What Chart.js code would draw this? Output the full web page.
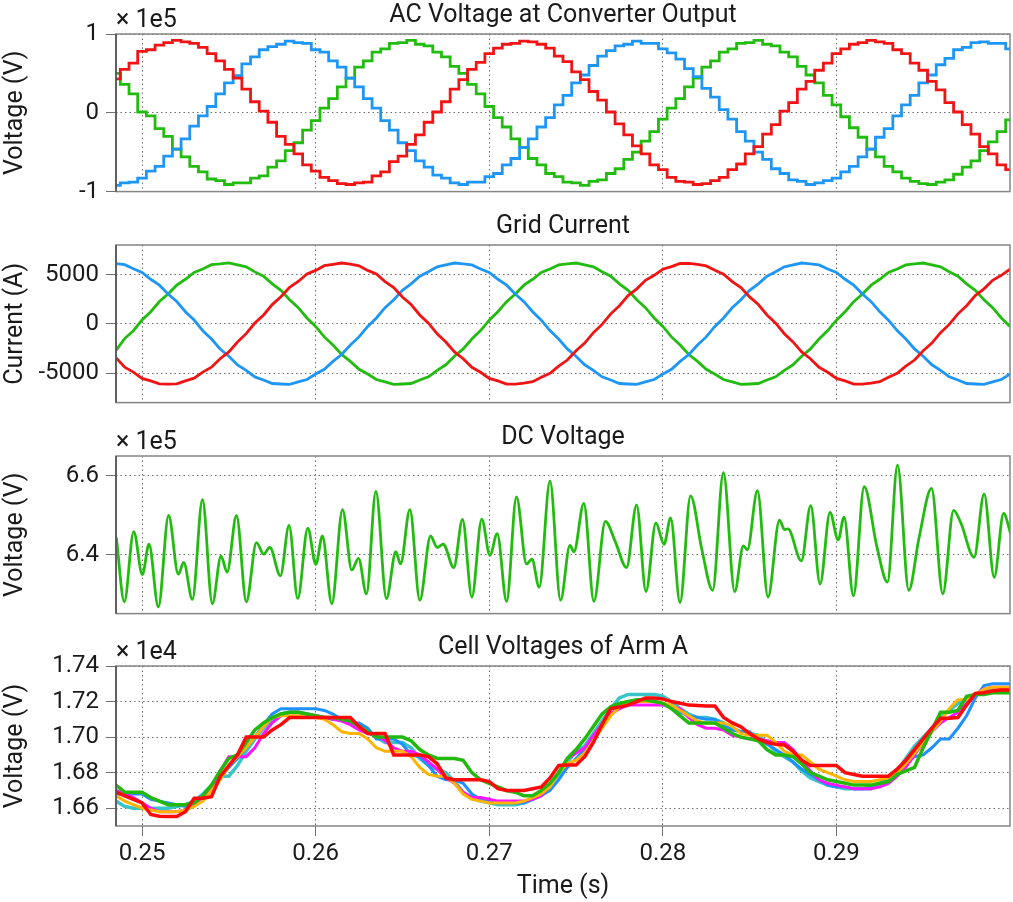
<!DOCTYPE html>
<html>
<head>
<meta charset="utf-8">
<title>MMC waveforms</title>
<script src="https://cdn.jsdelivr.net/npm/chart.js@4.4.0/dist/chart.umd.min.js"></script>
<style>
  html, body { margin: 0; padding: 0; background: #fff; }
  #wrap { position: relative; width: 1013px; height: 902px; }
  canvas { position: absolute; left: 0; }
</style>
</head>
<body>
<div id="wrap">
  <canvas id="ac-chart" width="1013" height="213" style="top:0px"></canvas>
  <canvas id="grid-chart" width="1013" height="213" style="top:211px"></canvas>
  <canvas id="dc-chart" width="1013" height="213" style="top:422px"></canvas>
  <canvas id="cell-chart" width="1013" height="270" style="top:632px"></canvas>
</div>
<script>
// Time axis (s); waveform arrays are sampled every tStep from tStart
const tStart = 0.2485;
const tEnd = 0.3;
const tStep = 0.0005;
const timeTicks = [0.25, 0.26, 0.27, 0.28, 0.29];

// AC voltage at converter output (x 1e5 V)
const acRed = [
    0.43, 0.55, 0.63, 0.78, 0.80, 0.86, 0.89, 0.92, 0.90, 0.88,
    0.83, 0.75, 0.66, 0.55, 0.44, 0.30, 0.14, 0.02, -0.12, -0.30,
    -0.40, -0.52, -0.66, -0.74, -0.82, -0.86, -0.90, -0.91, -0.89, -0.88,
    -0.80, -0.75, -0.62, -0.55, -0.40, -0.28, -0.12, 0.01, 0.14, 0.30,
    0.42, 0.55, 0.64, 0.75, 0.82, 0.87, 0.88, 0.91, 0.90, 0.87,
    0.82, 0.72, 0.65, 0.52, 0.42, 0.27, 0.16, 0.01, -0.14, -0.28,
    -0.42, -0.52, -0.66, -0.72, -0.82, -0.87, -0.88, -0.91, -0.90, -0.86,
    -0.82, -0.72, -0.65, -0.52, -0.43, -0.27, -0.15, 0.02, 0.13, 0.30,
    0.40, 0.54, 0.63, 0.75, 0.81, 0.87, 0.89, 0.92, 0.90, 0.88,
    0.80, 0.75, 0.63, 0.54, 0.40, 0.29, 0.13, 0.01, -0.15, -0.27,
    -0.43, -0.52, -0.66, -0.72
];
const acBlue = [
    -0.92, -0.89, -0.88, -0.83, -0.74, -0.68, -0.55, -0.46, -0.33, -0.17,
    -0.04, 0.08, 0.24, 0.38, 0.47, 0.62, 0.71, 0.80, 0.84, 0.87,
    0.91, 0.89, 0.88, 0.80, 0.77, 0.66, 0.58, 0.44, 0.33, 0.18,
    0.06, -0.10, -0.22, -0.38, -0.48, -0.61, -0.69, -0.79, -0.83, -0.89,
    -0.91, -0.88, -0.88, -0.81, -0.77, -0.66, -0.58, -0.44, -0.33, -0.18,
    -0.06, 0.10, 0.22, 0.38, 0.48, 0.60, 0.72, 0.79, 0.85, 0.87,
    0.91, 0.88, 0.88, 0.81, 0.76, 0.68, 0.56, 0.46, 0.31, 0.20,
    0.04, -0.08, -0.24, -0.36, -0.50, -0.59, -0.71, -0.77, -0.85, -0.87,
    -0.91, -0.89, -0.86, -0.83, -0.75, -0.68, -0.56, -0.46, -0.31, -0.20,
    -0.04, 0.10, 0.22, 0.38, 0.48, 0.61, 0.69, 0.80, 0.83, 0.89,
    0.90, 0.88, 0.88, 0.81
];
const acGreen = [
    0.50, 0.36, 0.24, 0.01, -0.04, -0.20, -0.30, -0.46, -0.56, -0.68,
    -0.75, -0.84, -0.86, -0.91, -0.89, -0.89, -0.83, -0.80, -0.69, -0.61,
    -0.48, -0.38, -0.22, -0.10, 0.06, 0.18, 0.33, 0.44, 0.58, 0.66,
    0.77, 0.81, 0.88, 0.89, 0.92, 0.87, 0.85, 0.77, 0.71, 0.59,
    0.50, 0.36, 0.24, 0.08, -0.06, -0.18, -0.33, -0.44, -0.58, -0.66,
    -0.77, -0.81, -0.88, -0.89, -0.92, -0.87, -0.85, -0.77, -0.71, -0.59,
    -0.50, -0.36, -0.24, -0.08, 0.06, 0.18, 0.33, 0.44, 0.58, 0.66,
    0.77, 0.81, 0.88, 0.89, 0.92, 0.87, 0.85, 0.77, 0.71, 0.59,
    0.48, 0.38, 0.22, 0.10, -0.05, -0.19, -0.31, -0.46, -0.56, -0.68,
    -0.75, -0.83, -0.87, -0.90, -0.91, -0.88, -0.85, -0.78, -0.69, -0.61,
    -0.48, -0.37, -0.24, -0.09
];
const acTicks = [-1, 0, 1];

// Grid current (A)
const iRed = [
    -3450, -4400, -4900, -5550, -5800, -6100, -6120, -6100, -5800, -5520,
    -4900, -4400, -3550, -2850, -1850, -1000, 80, 900, 1950, 2750,
    3700, 4300, 5050, 5420, 5900, 6030, 6170, 6050, 5880, 5420,
    5050, 4290, 3680, 2720, 1960, 900, 60, -1020, -1850, -2850,
    -3550, -4420, -4920, -5540, -5800, -6120, -6130, -6030, -5880, -5430,
    -5030, -4290, -3680, -2730, -1960, -900, -60, 1010, 1840, 2860,
    3550, 4420, 4920, 5540, 5800, 6120, 6130, 6030, 5880, 5430,
    5030, 4290, 3680, 2730, 1960, 900, 60, -1010, -1840, -2860,
    -3550, -4420, -4920, -5540, -5800, -6120, -6130, -6030, -5880, -5430,
    -5030, -4290, -3680, -2730, -1960, -900, -60, 1010, 1840, 2860,
    3550, 4420, 4920, 5540
];
const iBlue = [
    6100, 6000, 5580, 5220, 4520, 3920, 3020, 2260, 1230, 380,
    -700, -1540, -2560, -3290, -4170, -4720, -5390, -5700, -6060, -6110,
    -6150, -5900, -5660, -5100, -4620, -3820, -3120, -2150, -1330, -270,
    590, 1640, 2450, 3400, 4060, 4830, 5280, 5790, 5980, 6170,
    6080, 5980, 5570, 5210, 4520, 3920, 3030, 2250, 1230, 370,
    -690, -1550, -2550, -3300, -4160, -4730, -5380, -5700, -6060, -6110,
    -6150, -5900, -5660, -5110, -4620, -3820, -3120, -2150, -1330, -270,
    590, 1640, 2450, 3400, 4060, 4830, 5280, 5790, 5980, 6170,
    6080, 5980, 5570, 5210, 4520, 3920, 3030, 2250, 1230, 370,
    -690, -1550, -2550, -3300, -4160, -4730, -5380, -5700, -6060, -6110,
    -6150, -5900, -5660, -5110
];
const iGreen = [
    -2700, -1500, -700, 380, 1230, 2260, 3020, 3920, 4520, 5220,
    5560, 6000, 6080, 6180, 5980, 5790, 5270, 4830, 4060, 3400,
    2450, 1640, 590, -270, -1330, -2150, -3120, -3820, -4620, -5100,
    -5660, -5900, -6150, -6110, -6060, -5700, -5380, -4730, -4160, -3300,
    -2550, -1550, -690, 370, 1230, 2250, 3030, 3920, 4520, 5210,
    5570, 5980, 6080, 6170, 5980, 5790, 5280, 4830, 4060, 3400,
    2450, 1640, 590, -270, -1330, -2150, -3120, -3820, -4620, -5110,
    -5660, -5900, -6150, -6110, -6060, -5700, -5380, -4730, -4160, -3300,
    -2550, -1550, -690, 370, 1230, 2250, 3030, 3920, 4520, 5210,
    5570, 5980, 6080, 6170, 5980, 5790, 5280, 4830, 4060, 3400,
    2450, 1640, 590, -270
];
const currentTicks = [-5000, 0, 5000];

// DC voltage (x 1e5 V): turning points
const dcTimes = [
    0.24852, 0.24898, 0.24952, 0.25002, 0.25040, 0.25094, 0.25153, 0.25209, 0.25240, 0.25290,
    0.25348, 0.25405, 0.25455, 0.25490, 0.25544, 0.25601, 0.25659, 0.25701, 0.25736, 0.25797,
    0.25847, 0.25897, 0.25955, 0.26001, 0.26039, 0.26093, 0.26155, 0.26208, 0.26247, 0.26293,
    0.26347, 0.26408, 0.26462, 0.26489, 0.26543, 0.26600, 0.26662, 0.26700, 0.26735, 0.26796,
    0.26846, 0.26900, 0.26957, 0.27004, 0.27046, 0.27100, 0.27157, 0.27215, 0.27246, 0.27288,
    0.27350, 0.27411, 0.27465, 0.27488, 0.27545, 0.27603, 0.27669, 0.27725, 0.27791, 0.27849,
    0.27903, 0.27960, 0.28007, 0.28045, 0.28099, 0.28160, 0.28225, 0.28287, 0.28349, 0.28414,
    0.28464, 0.28487, 0.28545, 0.28606, 0.28672, 0.28702, 0.28721, 0.28798, 0.28852, 0.28906,
    0.28963, 0.29010, 0.29044, 0.29098, 0.29160, 0.29233, 0.29294, 0.29352, 0.29417, 0.29475,
    0.29548, 0.29613, 0.29675, 0.29717, 0.29793, 0.29851, 0.29909, 0.29963, 0.30005
];
const dcVolts = [
    6.443, 6.280, 6.458, 6.349, 6.426, 6.267, 6.499, 6.350, 6.380, 6.286,
    6.539, 6.275, 6.396, 6.355, 6.499, 6.280, 6.430, 6.401, 6.418, 6.346,
    6.474, 6.288, 6.467, 6.375, 6.447, 6.275, 6.514, 6.361, 6.390, 6.300,
    6.560, 6.288, 6.407, 6.376, 6.514, 6.284, 6.447, 6.418, 6.426, 6.367,
    6.489, 6.292, 6.490, 6.398, 6.453, 6.281, 6.546, 6.376, 6.388, 6.317,
    6.586, 6.284, 6.423, 6.407, 6.530, 6.281, 6.484, 6.434, 6.367, 6.526,
    6.306, 6.480, 6.426, 6.493, 6.278, 6.549, 6.412, 6.309, 6.608, 6.306,
    6.422, 6.412, 6.562, 6.292, 6.487, 6.463, 6.465, 6.384, 6.524, 6.325,
    6.507, 6.437, 6.495, 6.295, 6.572, 6.420, 6.330, 6.627, 6.309, 6.440,
    6.568, 6.300, 6.512, 6.480, 6.393, 6.554, 6.342, 6.504, 6.451
];
const dcTicks = [6.4, 6.6];

// Cell voltages of arm A (x 1e4 V)
const cellRed = [
    1.669, 1.667, 1.665, 1.663, 1.6565, 1.6555, 1.6553, 1.6553, 1.658, 1.6656,
    1.6656, 1.6665, 1.6778, 1.684, 1.690, 1.700, 1.700, 1.700, 1.704, 1.707,
    1.711, 1.711, 1.711, 1.711, 1.711, 1.711, 1.711, 1.711, 1.706, 1.702,
    1.702, 1.702, 1.690, 1.690, 1.690, 1.690, 1.689, 1.685, 1.677, 1.676,
    1.676, 1.676, 1.676, 1.675, 1.671, 1.670, 1.670, 1.670, 1.671, 1.672,
    1.677, 1.684, 1.6843, 1.6843, 1.689, 1.697, 1.707, 1.716, 1.717, 1.718,
    1.720, 1.722, 1.722, 1.7215, 1.720, 1.719, 1.718, 1.7178, 1.7175, 1.7175,
    1.711, 1.708, 1.7058, 1.702, 1.699, 1.697, 1.696, 1.6956, 1.692, 1.687,
    1.684, 1.684, 1.684, 1.684, 1.680, 1.679, 1.678, 1.678, 1.678, 1.678,
    1.682, 1.687, 1.693, 1.699, 1.705, 1.7106, 1.7106, 1.711, 1.718, 1.7246,
    1.725, 1.726, 1.7265, 1.7265
];
const cellGreen = [
    1.673, 1.669, 1.669, 1.669, 1.666, 1.664, 1.662, 1.662, 1.662, 1.663,
    1.667, 1.673, 1.681, 1.688, 1.690, 1.697, 1.704, 1.708, 1.711, 1.713,
    1.714, 1.714, 1.713, 1.712, 1.711, 1.711, 1.710, 1.709, 1.706, 1.703,
    1.700, 1.700, 1.700, 1.700, 1.698, 1.693, 1.690, 1.688, 1.688, 1.688,
    1.687, 1.680, 1.676, 1.674, 1.672, 1.670, 1.669, 1.667, 1.667, 1.670,
    1.674, 1.680, 1.688, 1.693, 1.699, 1.706, 1.713, 1.717, 1.719, 1.720,
    1.721, 1.721, 1.720, 1.719, 1.716, 1.712, 1.708, 1.708, 1.708, 1.708,
    1.705, 1.702, 1.700, 1.699, 1.698, 1.693, 1.690, 1.690, 1.689, 1.685,
    1.680, 1.678, 1.676, 1.675, 1.674, 1.673, 1.673, 1.673, 1.674, 1.675,
    1.679, 1.681, 1.683, 1.694, 1.704, 1.714, 1.714, 1.715, 1.723, 1.724,
    1.724, 1.725, 1.725, 1.725
];
const cellBlue = [
    1.668, 1.668, 1.668, 1.668, 1.665, 1.664, 1.663, 1.662, 1.661, 1.662,
    1.665, 1.670, 1.677, 1.683, 1.688, 1.694, 1.700, 1.707, 1.713, 1.716,
    1.716, 1.716, 1.716, 1.716, 1.715, 1.713, 1.710, 1.708, 1.708, 1.705,
    1.699, 1.699, 1.699, 1.696, 1.690, 1.689, 1.684, 1.678, 1.676, 1.676,
    1.674, 1.668, 1.665, 1.664, 1.663, 1.663, 1.663, 1.663, 1.665, 1.667,
    1.670, 1.676, 1.683, 1.688, 1.693, 1.699, 1.706, 1.713, 1.717, 1.719,
    1.720, 1.720, 1.720, 1.719, 1.717, 1.714, 1.712, 1.711, 1.710, 1.710,
    1.707, 1.704, 1.703, 1.703, 1.699, 1.696, 1.693, 1.690, 1.686, 1.682,
    1.679, 1.676, 1.673, 1.672, 1.672, 1.671, 1.671, 1.672, 1.674, 1.677,
    1.682, 1.686, 1.689, 1.690, 1.694, 1.699, 1.699, 1.705, 1.712, 1.722,
    1.729, 1.730, 1.730, 1.730
];
const cellOrange = [
    1.667, 1.664, 1.662, 1.660, 1.659, 1.658, 1.658, 1.658, 1.659, 1.661,
    1.664, 1.670, 1.676, 1.684, 1.689, 1.694, 1.700, 1.706, 1.711, 1.712,
    1.712, 1.712, 1.711, 1.711, 1.710, 1.707, 1.703, 1.702, 1.702, 1.699,
    1.694, 1.692, 1.692, 1.692, 1.689, 1.683, 1.679, 1.678, 1.678, 1.674,
    1.668, 1.665, 1.664, 1.663, 1.663, 1.663, 1.663, 1.664, 1.666, 1.668,
    1.672, 1.680, 1.685, 1.687, 1.691, 1.698, 1.705, 1.712, 1.717, 1.719,
    1.720, 1.720, 1.720, 1.719, 1.718, 1.715, 1.712, 1.709, 1.708, 1.708,
    1.708, 1.706, 1.702, 1.701, 1.701, 1.701, 1.697, 1.692, 1.690, 1.690,
    1.686, 1.682, 1.680, 1.678, 1.676, 1.675, 1.675, 1.675, 1.676, 1.677,
    1.680, 1.685, 1.691, 1.697, 1.703, 1.709, 1.716, 1.721, 1.721, 1.724,
    1.727, 1.728, 1.728, 1.728
];
const cellMagenta = [
    1.670, 1.668, 1.666, 1.663, 1.660, 1.658, 1.658, 1.658, 1.659, 1.662,
    1.666, 1.672, 1.681, 1.689, 1.689, 1.689, 1.694, 1.702, 1.708, 1.712,
    1.714, 1.714, 1.713, 1.712, 1.711, 1.710, 1.709, 1.707, 1.704, 1.702,
    1.701, 1.698, 1.694, 1.692, 1.692, 1.690, 1.686, 1.682, 1.677, 1.674,
    1.669, 1.666, 1.666, 1.665, 1.664, 1.664, 1.664, 1.664, 1.665, 1.667,
    1.673, 1.680, 1.688, 1.691, 1.694, 1.701, 1.707, 1.713, 1.716, 1.718,
    1.718, 1.718, 1.718, 1.718, 1.717, 1.716, 1.711, 1.707, 1.705, 1.705,
    1.704, 1.701, 1.700, 1.699, 1.699, 1.698, 1.697, 1.697, 1.693, 1.687,
    1.681, 1.676, 1.674, 1.673, 1.672, 1.671, 1.671, 1.671, 1.672, 1.674,
    1.678, 1.683, 1.690, 1.697, 1.703, 1.708, 1.711, 1.714, 1.719, 1.724,
    1.727, 1.728, 1.728, 1.728
];
const cellCyan = [
    1.664, 1.661, 1.660, 1.660, 1.660, 1.660, 1.660, 1.661, 1.662, 1.664,
    1.668, 1.673, 1.678, 1.678, 1.684, 1.692, 1.699, 1.705, 1.710, 1.713,
    1.714, 1.714, 1.713, 1.712, 1.711, 1.710, 1.710, 1.709, 1.706, 1.703,
    1.700, 1.697, 1.697, 1.697, 1.694, 1.688, 1.684, 1.682, 1.680, 1.675,
    1.669, 1.666, 1.664, 1.663, 1.662, 1.662, 1.662, 1.663, 1.665, 1.668,
    1.673, 1.679, 1.686, 1.692, 1.695, 1.702, 1.709, 1.716, 1.722, 1.724,
    1.724, 1.724, 1.724, 1.723, 1.720, 1.716, 1.713, 1.711, 1.711, 1.710,
    1.708, 1.705, 1.703, 1.702, 1.701, 1.697, 1.692, 1.689, 1.686, 1.681,
    1.677, 1.675, 1.673, 1.672, 1.671, 1.671, 1.671, 1.671, 1.673, 1.676,
    1.681, 1.688, 1.695, 1.700, 1.705, 1.711, 1.715, 1.719, 1.721, 1.724,
    1.726, 1.727, 1.727, 1.727
];
const cellTicks = [1.66, 1.68, 1.70, 1.72, 1.74];

// Colours
const RED = '#f01414';
const GREEN = '#22bb10';
const BLUE = '#1e96f5';
const textColor = '#1a1a1a';
const gridColor = '#6e6e6e';
const tickFont = { family: 'Roboto', size: 24 };
const labelFont = { family: 'Roboto', size: 25 };

// Turn a sampled array into {x, y} points on the time axis
const sampled = values => values.map((v, i) => ({ x: tStart + i * tStep, y: v }));

// Frame, panel title and exponent label
const panelDecor = {
    id: 'panelDecor',
    afterDraw(chart, args, opts) {
        const { ctx, chartArea: a } = chart;
        ctx.save();
        ctx.lineWidth = 1.5;
        ctx.strokeStyle = '#858585';
        ctx.strokeRect(a.left, a.top, a.right - a.left, a.bottom - a.top);
        ctx.strokeStyle = '#4a4a4a';
        ctx.beginPath();
        ctx.moveTo(a.left, a.top);
        ctx.lineTo(a.left, a.bottom);
        ctx.stroke();

        ctx.fillStyle = textColor;
        ctx.font = '25px Roboto';
        ctx.textBaseline = 'middle';
        ctx.textAlign = 'center';
        ctx.fillText(opts.title, (a.left + a.right) / 2, a.top - 18);
        if (opts.exponent) {
            ctx.textAlign = 'left';
            ctx.fillText(opts.exponent, a.left, a.top - 13);
        }
        ctx.restore();
    }
};

function line(data, color, width, extra) {
    return Object.assign({
        data: data,
        borderColor: color,
        borderWidth: width,
        pointRadius: 0,
        fill: false,
        tension: 0
    }, extra || {});
}

function makePanel(id, datasets, cfg) {
    const last = !!cfg.showTime;
    return new Chart(document.getElementById(id), {
        type: 'line',
        data: { datasets: datasets },
        plugins: [panelDecor],
        options: {
            responsive: false,
            animation: false,
            layout: { padding: { top: 34, right: 3, left: 0, bottom: 0 }, autoPadding: false },
            plugins: {
                legend: { display: false },
                tooltip: { enabled: false },
                panelDecor: { title: cfg.title, exponent: cfg.exponent }
            },
            scales: {
                x: {
                    type: 'linear',
                    min: tStart,
                    max: tEnd,
                    afterBuildTicks: s => { s.ticks = timeTicks.map(v => ({ value: v })); },
                    afterFit: s => { s.height = last ? 76 : 20; },
                    ticks: {
                        display: last,
                        font: tickFont,
                        color: textColor,
                        padding: 4,
                        maxRotation: 0,
                        callback: v => v.toFixed(2)
                    },
                    grid: {
                        color: gridColor,
                        lineWidth: 1,
                        drawTicks: last,
                        tickLength: 10,
                        tickColor: '#707070'
                    },
                    border: { display: false, dash: [1.5, 3] },
                    title: {
                        display: last,
                        text: 'Time (s)',
                        font: labelFont,
                        color: textColor,
                        padding: { top: 0, bottom: 0 }
                    }
                },
                y: {
                    type: 'linear',
                    min: cfg.min,
                    max: cfg.max,
                    afterBuildTicks: s => { s.ticks = cfg.ticks.map(v => ({ value: v })); },
                    afterFit: s => { s.width = 116; },
                    ticks: {
                        font: tickFont,
                        color: textColor,
                        padding: 7,
                        callback: cfg.format
                    },
                    grid: {
                        color: gridColor,
                        lineWidth: 1,
                        drawTicks: true,
                        tickLength: 10,
                        tickColor: '#707070'
                    },
                    border: { display: false, dash: [1.5, 3] },
                    title: {
                        display: true,
                        text: cfg.yTitle,
                        font: labelFont,
                        color: textColor,
                        padding: { top: 1, bottom: 4 }
                    }
                }
            }
        }
    });
}

// AC voltage panel
makePanel('ac-chart', [
    line(sampled(acRed), RED, 2.8, { stepped: 'middle' }),
    line(sampled(acBlue), BLUE, 2.8, { stepped: 'middle' }),
    line(sampled(acGreen), GREEN, 2.8, { stepped: 'middle' })
], {
    title: 'AC Voltage at Converter Output',
    exponent: '\u00d7 1e5',
    yTitle: 'Voltage (V)',
    min: -1, max: 1,
    ticks: acTicks,
    format: v => String(v)
});

// Grid current panel
makePanel('grid-chart', [
    line(sampled(iRed), RED, 2.8),
    line(sampled(iBlue), BLUE, 2.8),
    line(sampled(iGreen), GREEN, 2.8)
], {
    title: 'Grid Current',
    yTitle: 'Current (A)',
    min: -8000, max: 8000,
    ticks: currentTicks,
    format: v => String(v)
});

// DC voltage panel
makePanel('dc-chart', [
    line(dcTimes.map((t, i) => ({ x: t, y: dcVolts[i] })), GREEN, 2.8, { cubicInterpolationMode: 'monotone' })
], {
    title: 'DC Voltage',
    exponent: '\u00d7 1e5',
    yTitle: 'Voltage (V)',
    min: 6.25, max: 6.65,
    ticks: dcTicks,
    format: v => v.toFixed(1)
});

// Cell voltages panel (first dataset is drawn on top)
makePanel('cell-chart', [
    line(sampled(cellRed), '#ff0a0a', 3.5),
    line(sampled(cellGreen), '#22b80c', 3.5),
    line(sampled(cellOrange), '#ffb400', 3),
    line(sampled(cellMagenta), '#ff14ff', 3),
    line(sampled(cellBlue), '#1e90ff', 3),
    line(sampled(cellCyan), '#38c4c8', 3.5)
], {
    title: 'Cell Voltages of Arm A',
    exponent: '\u00d7 1e4',
    yTitle: 'Voltage (V)',
    min: 1.65, max: 1.74,
    ticks: cellTicks,
    format: v => v.toFixed(2),
    showTime: true
});
</script>
</body>
</html>
